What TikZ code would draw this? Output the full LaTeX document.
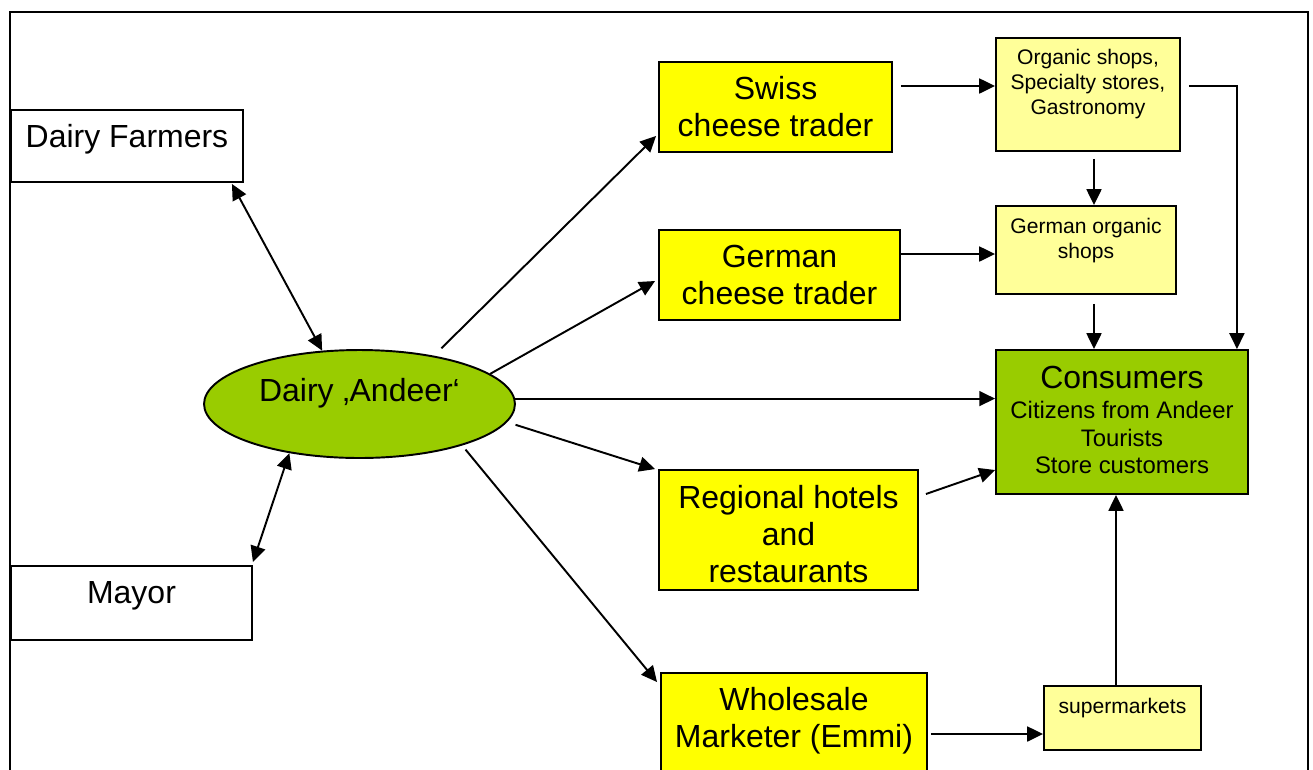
\documentclass[tikz,border=0pt]{standalone}
\usepackage{fontspec}
\setmainfont{Liberation Sans}
\usepackage{tikz}
\usetikzlibrary{calc, positioning, shapes.geometric, arrows.meta}

\definecolor{traderyellow}{HTML}{FFFF00}
\definecolor{shopyellow}{HTML}{FFFF99}
\definecolor{dairygreen}{HTML}{99CC00}

\newcommand\bigtxt{\fontsize{18.2}{21}\selectfont}
\newcommand\midtxt{\fontsize{13.6}{15.6}\selectfont}
\newcommand\smalltxt{\fontsize{12}{14.2}\selectfont}

\begin{document}
\begin{tikzpicture}[x=0.02cm, y=-0.02cm,
    box/.style={draw, line width=1.1pt, rectangle, inner sep=0pt, align=center},
    textpos/.style n args={2}{text height=#1, text depth=#2},
    actor/.style={box, fill=white, font=\bigtxt},
    trader/.style={box, fill=traderyellow, font=\bigtxt},
    shop/.style={box, fill=shopyellow, font=\smalltxt},
    arr/.style={line width=1.1pt, -{Triangle[length=9pt, width=8.5pt]}},
    dbl/.style={line width=1.1pt, {Triangle[length=9pt, width=8.5pt]}-{Triangle[length=9pt, width=8.5pt]}}]
    \useasboundingbox (0,0) rectangle (1313,769);

    % frame
    \draw[line width=1.4pt] (10,790) -- (10,12) -- (1308,12) -- (1308,790);

    % actors
    \node (farmers) [actor, minimum width=4.64cm, minimum height=1.44cm, textpos={13pt}{11.4pt}] at (127,146) {Dairy Farmers};
    \node (mayor) [actor, minimum width=4.82cm, minimum height=1.48cm, textpos={13pt}{12.5pt}] at (131.5,603) {Mayor};
    \node (dairy) [draw, ellipse, line width=1.1pt, fill=dairygreen, inner sep=0pt, font=\bigtxt,
        minimum width=6.22cm, minimum height=2.16cm, textpos={13pt}{16.4pt}] at (359.5,404) {Dairy ‚Andeer‘};

    % traders
    \node (swiss) [trader, minimum width=4.66cm, minimum height=1.8cm, textpos={34pt}{0.6pt}] at (775.5,107) {Swiss\\cheese trader};
    \node (germantr) [trader, minimum width=4.82cm, minimum height=1.8cm, textpos={34pt}{0.6pt}] at (779.5,275) {German\\cheese trader};
    \node (regional) [trader, minimum width=5.18cm, minimum height=2.4cm, textpos={59.6pt}{0pt}] at (788.5,530) {Regional hotels\\and\\restaurants};
    \node (wholesale) [trader, minimum width=5.32cm, minimum height=2cm, textpos={34pt}{6.6pt}] at (794,723) {Wholesale\\Marketer (Emmi)};

    % shops
    \node (organic) [shop, minimum width=3.68cm, minimum height=2.26cm, textpos={37pt}{14.2pt}] at (1088,94.5) {Organic shops,\\Specialty stores,\\Gastronomy};
    \node (gorganic) [shop, minimum width=3.6cm, minimum height=1.76cm, textpos={22.8pt}{13.6pt}] at (1086,250) {German organic\\shops};
    \node (supermkt) [shop, minimum width=3.14cm, minimum height=1.28cm, textpos={8.6pt}{13.6pt}] at (1122.5,718) {supermarkets};
    \node (consumers) [box, fill=dairygreen, font=\midtxt, minimum width=5.04cm, minimum height=2.88cm, textpos={58.8pt}{0pt}] at (1122,422)
        {{\bigtxt Consumers}\\[1.4pt]Citizens from Andeer\\Tourists\\Store customers};

    % links around the dairy
    \draw[dbl] ([shift={(-12,1)}]farmers.south east) -- (dairy.125);
    \draw[dbl] ([shift={(0,-3)}]mayor.north east) -- (dairy.215);
    \draw[arr, shorten <=6pt] (dairy.33) -- ([shift={(-2,29)}]swiss.west);
    \draw[arr] (dairy.13) -- ([shift={(-3,6)}]germantr.west);
    \draw[arr] (dairy.2) -- (dairy.2 -| consumers.west);
    \draw[arr, shorten <=5pt] (dairy.-7) -- ([shift={(-3,0)}]regional.north west);
    \draw[arr, shorten <=3pt] (dairy.-22) -- ([shift={(-3,10)}]wholesale.north west);

    % flows to the consumers
    \coordinate (s2o) at ([shift={(8,-21)}]swiss.east);
    \draw[arr] (s2o) -- (s2o -| organic.west);
    \coordinate (g2g) at ([shift={(0,-21)}]germantr.east);
    \draw[arr] (g2g) -- (g2g -| gorganic.west);
    \coordinate (o2g) at ([shift={(6,7)}]organic.south);
    \draw[arr] (o2g) -- (o2g |- gorganic.north);
    \coordinate (g2c) at ([shift={(8,9)}]gorganic.south);
    \draw[arr] (g2c) -- (g2c |- consumers.north);
    \draw[arr] ([shift={(8,-8.5)}]organic.east) -| ([shift={(-12,0)}]consumers.north east);
    \draw[arr] ([shift={(7,-36)}]regional.east) -- ([shift={(0,48)}]consumers.west);
    \coordinate (w2s) at ([shift={(3,11)}]wholesale.east);
    \draw[arr] (w2s) -- (w2s -| supermkt.west);
    \coordinate (s2c) at ([shift={(-6.5,0)}]supermkt.north);
    \draw[arr] (s2c) -- (s2c |- consumers.south);
\end{tikzpicture}
\end{document}
